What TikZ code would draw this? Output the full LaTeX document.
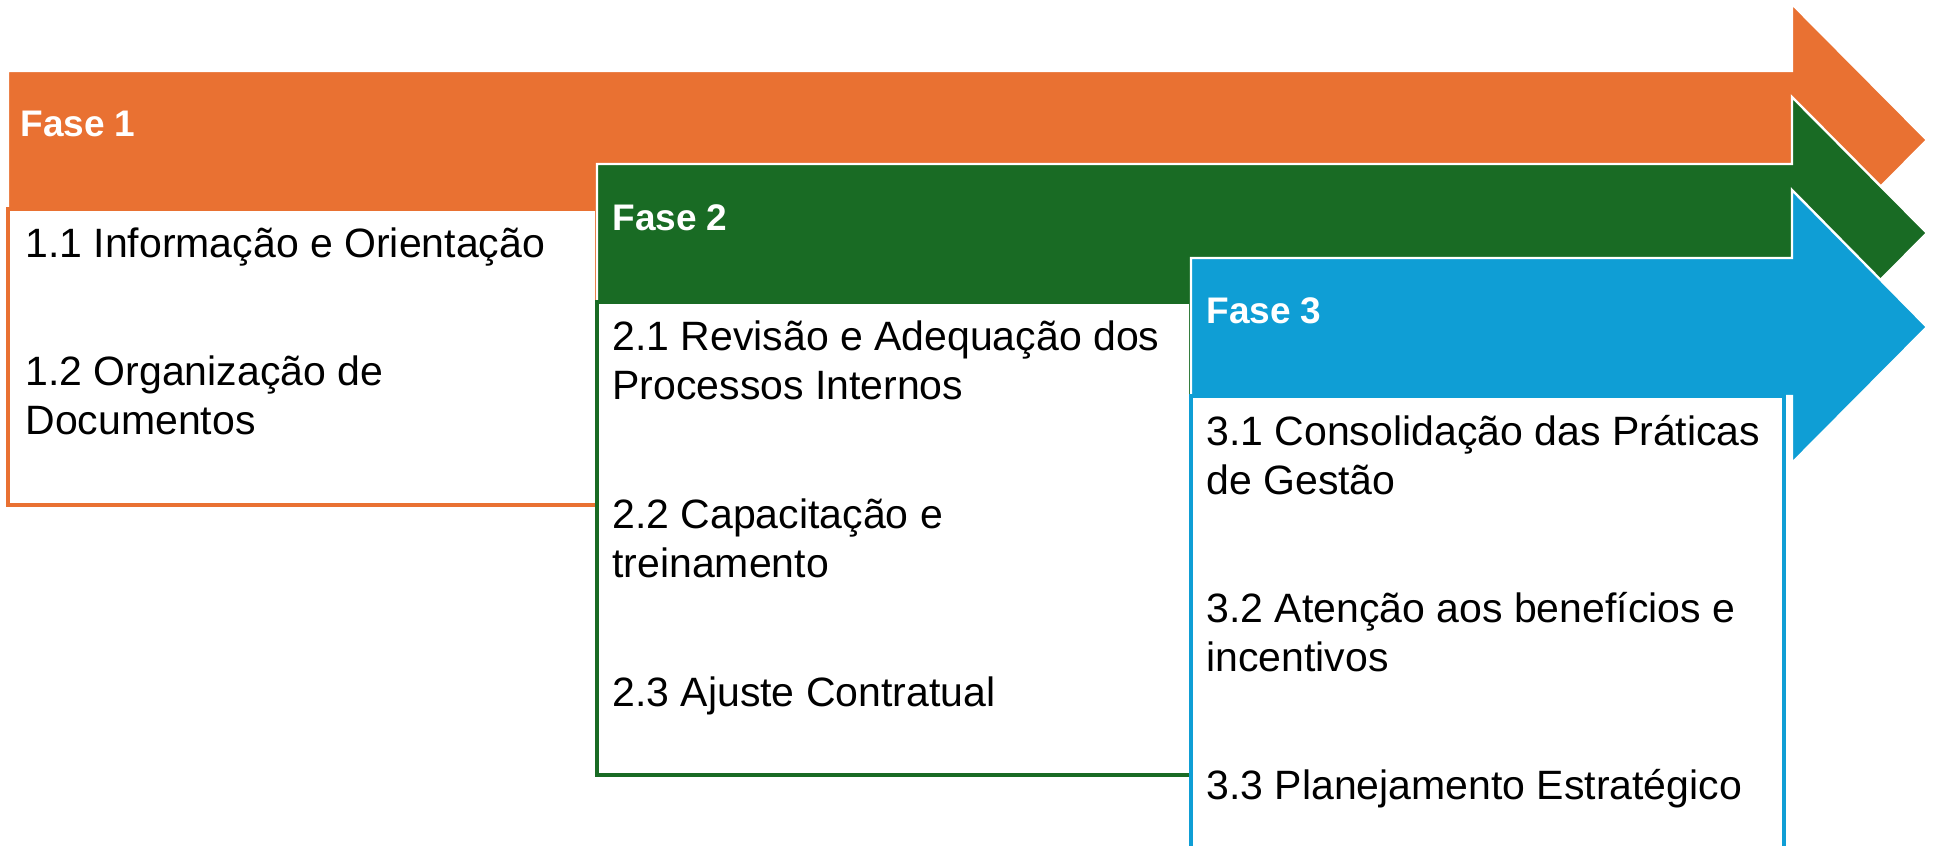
\documentclass[tikz,border=0pt]{standalone}
\usepackage{fontspec}
\setmainfont{Liberation Sans}
\definecolor{ora}{HTML}{E97132}
\definecolor{grn}{HTML}{196B24}
\definecolor{blu}{HTML}{0F9ED5}
\tikzset{
  phasearrow/.style={fill=#1, draw=white, line width=1.2pt, line join=miter},
  itembox/.style={fill=white, draw=#1, line width=1.6pt},
  phaselabel/.style={text=white, font=\bfseries\fontsize{18.5}{22}\selectfont, anchor=base west, inner sep=0pt},
  itemtext/.style={text=black, font=\fontsize{20.5}{24.5}\selectfont, anchor=base west, align=left, inner sep=0pt}
}
\begin{document}
\begin{tikzpicture}[x=0.5pt,y=-0.5pt]
\useasboundingbox (0,0) rectangle (1936,845);
\clip (0,0) rectangle (1936,845);
% Phase 1
\draw[phasearrow=ora] (8,71) -- (1792,71) -- (1792,4) -- (1927,140) -- (1792,276) -- (1792,209) -- (8,209) -- cycle;
\draw[itembox=ora] (8,209) rectangle (597,505);
\node[phaselabel] (f1) at (20,137) {Fase 1};
\node[itemtext] (i11) at (25,257) {1.1 Informação e Orientação};
\node[itemtext] (i12) at (25,434) {1.2 Organização de\\Documentos};
% Phase 2
\draw[phasearrow=grn] (597,164) -- (1792,164) -- (1792,97) -- (1927,233) -- (1792,369) -- (1792,302) -- (597,302) -- cycle;
\draw[itembox=grn] (597,302) rectangle (1191,775);
\node[phaselabel] (f2) at (612,231) {Fase 2};
\node[itemtext] (i21) at (612,399) {2.1 Revisão e Adequação dos\\Processos Internos};
\node[itemtext] (i22) at (612,577) {2.2 Capacitação e\\treinamento};
\node[itemtext] (i23) at (612,706) {2.3 Ajuste Contratual};
% Phase 3
\draw[phasearrow=blu] (1191,258) -- (1792,258) -- (1792,190) -- (1927,327) -- (1792,463) -- (1792,396) -- (1191,396) -- cycle;
\draw[itembox=blu] (1191,396) rectangle (1784,870);
\node[phaselabel] (f3) at (1206,323) {Fase 3};
\node[itemtext] (i31) at (1206,494) {3.1 Consolidação das Práticas\\de Gestão};
\node[itemtext] (i32) at (1206,671) {3.2 Atenção aos benefícios e\\incentivos};
\node[itemtext] (i33) at (1206,799) {3.3 Planejamento Estratégico};
\end{tikzpicture}
\end{document}
